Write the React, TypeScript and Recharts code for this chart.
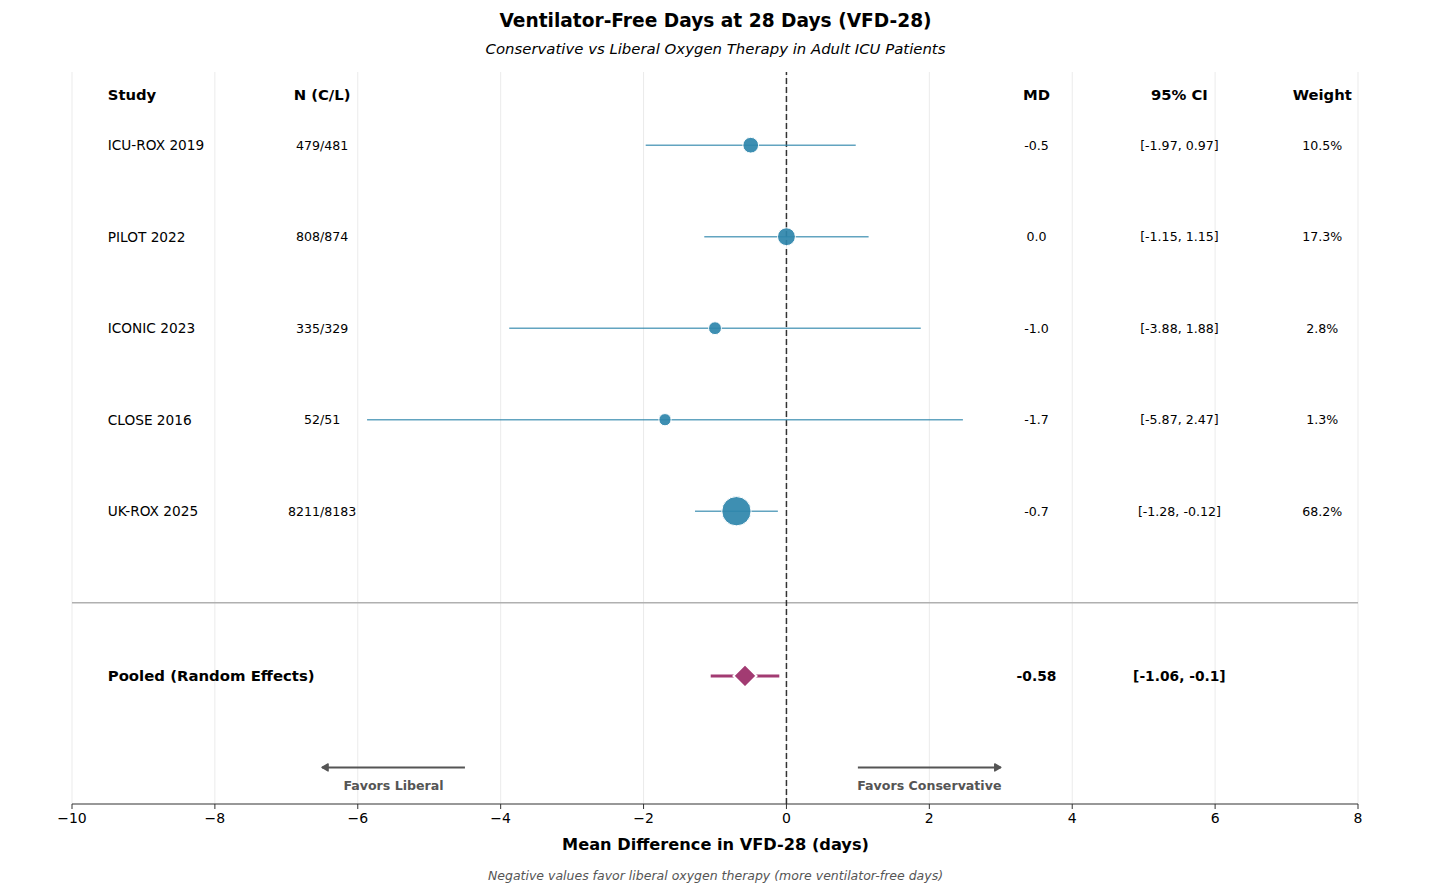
import React from 'react';
import {
  ComposedChart,
  Scatter,
  Line,
  XAxis,
  YAxis,
  CartesianGrid,
  ReferenceLine,
  ErrorBar,
} from 'recharts';

const STUDIES = ['ICU-ROX 2019', 'PILOT 2022', 'ICONIC 2023', 'CLOSE 2016', 'UK-ROX 2025'];
const SAMPLE_SIZES = ['479/481', '808/874', '335/329', '52/51', '8211/8183'];
const MEAN_DIFF = [-0.5, 0.0, -1.0, -1.7, -0.7];
const CI_LOW = [-1.97, -1.15, -3.88, -5.87, -1.28];
const CI_HIGH = [0.97, 1.15, 1.88, 2.47, -0.12];
const WEIGHTS = [10.5, 17.3, 2.8, 1.3, 68.2];
const ROW_Y = [6, 5, 4, 3, 2];

const POOLED_MD = -0.58;
const POOLED_LOW = -1.06;
const POOLED_HIGH = -0.1;
const POOLED_Y = 0.2;

const HEADERS = ['Study', 'N (C/L)', 'MD', '95% CI', 'Weight'];
const COLUMN_X = [-9.5, -6.5, 3.5, 5.5, 7.5];
const HEADER_Y = 6.55;
const X_TICKS = [-10, -8, -6, -4, -2, 0, 2, 4, 6, 8];

const BLUE = '#2E86AB';
const PURPLE = '#A23B72';
const FONT = '"DejaVu Sans", Verdana, sans-serif';

const studyData = STUDIES.map((name, i) => ({
  x: MEAN_DIFF[i],
  y: ROW_Y[i],
  weight: WEIGHTS[i],
  err: [MEAN_DIFF[i] - CI_LOW[i], CI_HIGH[i] - MEAN_DIFF[i]],
}));

const pooledData = [
  { x: POOLED_MD, y: POOLED_Y, err: [POOLED_MD - POOLED_LOW, POOLED_HIGH - POOLED_MD] },
];

const fmtCI = (lo: number, hi: number) => `[${lo}, ${hi}]`;

// table text, one list per column
const headerCells = HEADERS.map((label, i) => ({ x: COLUMN_X[i], y: HEADER_Y, label, anchor: i === 0 ? 'start' : 'middle' }));
const studyCells = STUDIES.map((s, i) => ({ x: COLUMN_X[0], y: ROW_Y[i], label: s, anchor: 'start', size: 13.7 }));
const nCells = SAMPLE_SIZES.map((s, i) => ({ x: COLUMN_X[1], y: ROW_Y[i], label: s, anchor: 'middle' }));
const mdCells = MEAN_DIFF.map((v, i) => ({ x: COLUMN_X[2], y: ROW_Y[i], label: v.toFixed(1), anchor: 'middle' }));
const ciCells = CI_LOW.map((lo, i) => ({ x: COLUMN_X[3], y: ROW_Y[i], label: fmtCI(lo, CI_HIGH[i]), anchor: 'middle' }));
const wCells = WEIGHTS.map((w, i) => ({ x: COLUMN_X[4], y: ROW_Y[i], label: `${w.toFixed(1)}%`, anchor: 'middle' }));
const pooledCells = [
  { x: COLUMN_X[0], y: POOLED_Y, label: 'Pooled (Random Effects)', anchor: 'start', bold: true, size: 14.9 },
  { x: COLUMN_X[2], y: POOLED_Y, label: POOLED_MD.toFixed(2), anchor: 'middle', bold: true, size: 13.8 },
  { x: COLUMN_X[3], y: POOLED_Y, label: fmtCI(POOLED_LOW, POOLED_HIGH), anchor: 'middle', bold: true, size: 13.8 },
];

const ARROW_Y = -0.8;
const leftArrow = [{ x: -4.5, y: ARROW_Y }, { x: -6.5, y: ARROW_Y }];
const rightArrow = [{ x: 1, y: ARROW_Y }, { x: 3, y: ARROW_Y }];
const arrowLabels = [
  { x: -5.5, y: -1.0, label: 'Favors Liberal' },
  { x: 2, y: -1.0, label: 'Favors Conservative' },
];

const TextShape = (props: any) => {
  const p = props.payload;
  const bold = p.bold || p.y === HEADER_Y;
  return (
    <text
      x={props.cx}
      y={props.cy}
      textAnchor={p.anchor}
      dominantBaseline="central"
      fontFamily={FONT}
      fontSize={p.size ?? (p.y === HEADER_Y ? 14.8 : 12.6)}
      fontWeight={bold ? 'bold' : 'normal'}
      fill="#000"
    >
      {p.label}
    </text>
  );
};

const ArrowLabel = (props: any) => (
  <text
    x={props.cx}
    y={props.cy}
    textAnchor="middle"
    dominantBaseline="central"
    fontFamily={FONT}
    fontSize={12.6}
    fontWeight="bold"
    fill="#555"
  >
    {props.payload.label}
  </text>
);

const StudyMarker = (props: any) => {
  const r = Math.sqrt(34 + 2.65 * props.payload.weight);
  return <circle cx={props.cx} cy={props.cy} r={r} fill={BLUE} fillOpacity={0.92} stroke="#fff" strokeWidth={1} />;
};

const Diamond = (props: any) => {
  const { cx, cy } = props;
  const h = 11.5;
  return (
    <path
      d={`M${cx},${cy - h}L${cx + h},${cy}L${cx},${cy + h}L${cx - h},${cy}Z`}
      fill={PURPLE}
      stroke="#fff"
      strokeWidth={2}
    />
  );
};

const arrowHead = (props: any) => {
  const { cx, cy, index } = props;
  if (index !== 1) return <g key={`a-${index}`} />;
  const dir = props.payload.x > 0 ? 1 : -1;
  return (
    <path
      key={`a-${index}`}
      d={`M${cx - dir * 6},${cy - 3.5}L${cx},${cy}L${cx - dir * 6},${cy + 3.5}Z`}
      fill="#555"
      stroke="#555"
      strokeWidth={1.5}
      strokeLinejoin="round"
    />
  );
};

const tickFmt = (v: number) => String(v).replace('-', '\u2212');

export default function App() {
  return (
    <div style={{ position: 'absolute', left: 0, top: 0, width: 1431, height: 894, background: '#fff', fontFamily: FONT }}>
      <div style={{ position: 'absolute', top: 10, width: '100%', textAlign: 'center', fontSize: 18.6, fontWeight: 'bold' }}>
        Ventilator-Free Days at 28 Days (VFD-28)
      </div>
      <div style={{ position: 'absolute', top: 40, width: '100%', textAlign: 'center', fontSize: 14.9, fontStyle: 'italic' }}>
        Conservative vs Liberal Oxygen Therapy in Adult ICU Patients
      </div>
      <ComposedChart width={1431} height={894} margin={{ top: 72, left: 72, right: 73, bottom: 60 }}>
        <CartesianGrid horizontal={false} stroke="#ebebeb" />
        <XAxis
          type="number"
          dataKey="x"
          domain={[-10, 8]}
          ticks={X_TICKS}
          tickFormatter={tickFmt}
          allowDataOverflow
          height={30}
          axisLine={{ stroke: '#333', strokeWidth: 1.2 }}
          tickLine={{ stroke: '#333' }}
          tickSize={5}
          tickMargin={4}
          tick={{ fill: '#000', fontSize: 14, fontFamily: FONT }}
        />
        <YAxis type="number" dataKey="y" domain={[-1.2, 6.8]} hide />
        <ReferenceLine y={1} stroke="#b0b0b0" strokeWidth={1.5} />
        <ReferenceLine x={0} stroke="#333" strokeWidth={1.5} strokeDasharray="6 3" />

        <Scatter data={studyData} shape={StudyMarker} isAnimationActive={false}>
          <ErrorBar dataKey="err" direction="x" width={0} stroke={BLUE} strokeOpacity={0.75} strokeWidth={1.5} />
        </Scatter>
        <Scatter data={pooledData} shape={Diamond} isAnimationActive={false}>
          <ErrorBar dataKey="err" direction="x" width={0} stroke={PURPLE} strokeWidth={3} />
        </Scatter>

        <Line data={leftArrow} dataKey="y" stroke="#555" strokeWidth={2} dot={arrowHead} activeDot={false} isAnimationActive={false} />
        <Line data={rightArrow} dataKey="y" stroke="#555" strokeWidth={2} dot={arrowHead} activeDot={false} isAnimationActive={false} />
        <Scatter data={arrowLabels} shape={ArrowLabel} isAnimationActive={false} />

        <Scatter data={headerCells} shape={TextShape} isAnimationActive={false} />
        <Scatter data={studyCells} shape={TextShape} isAnimationActive={false} />
        <Scatter data={nCells} shape={TextShape} isAnimationActive={false} />
        <Scatter data={mdCells} shape={TextShape} isAnimationActive={false} />
        <Scatter data={ciCells} shape={TextShape} isAnimationActive={false} />
        <Scatter data={wCells} shape={TextShape} isAnimationActive={false} />
        <Scatter data={pooledCells} shape={TextShape} isAnimationActive={false} />
      </ComposedChart>
      <div style={{ position: 'absolute', top: 835, width: '100%', textAlign: 'center', fontSize: 16.2, fontWeight: 'bold' }}>
        Mean Difference in VFD-28 (days)
      </div>
      <div style={{ position: 'absolute', top: 868, width: '100%', textAlign: 'center', fontSize: 12.5, fontStyle: 'italic', color: '#555' }}>
        Negative values favor liberal oxygen therapy (more ventilator-free days)
      </div>
    </div>
  );
}
